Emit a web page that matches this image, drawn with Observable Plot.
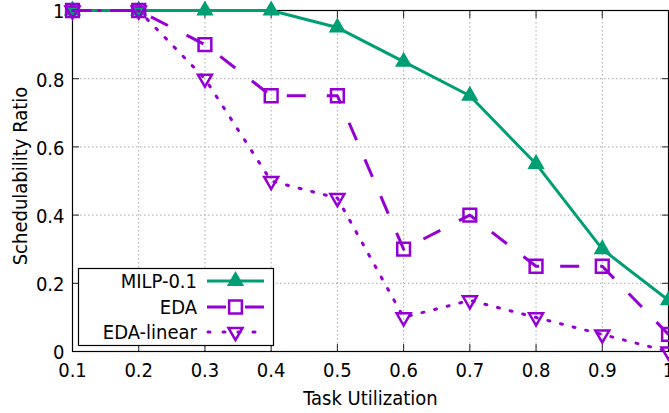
<!DOCTYPE html>
<html><head><meta charset="utf-8">
<script src="https://cdn.jsdelivr.net/npm/d3@7"></script>
<script src="https://cdn.jsdelivr.net/npm/@observablehq/plot@0.6"></script>
<style>
html,body{margin:0;padding:0;background:#fff;overflow:hidden;}
#chart svg{display:block;}
</style></head><body><div id="chart"></div>
<script>
const utilization = [0.1, 0.2, 0.3, 0.4, 0.5, 0.6, 0.7, 0.8, 0.9, 1.0];
const milp      = [1, 1, 1,   1,    0.95, 0.85, 0.75, 0.55, 0.30, 0.15];
const eda       = [1, 1, 0.9, 0.75, 0.75, 0.30, 0.40, 0.25, 0.25, 0.05];
const edaLinear = [1, 1, 0.8, 0.50, 0.45, 0.10, 0.15, 0.10, 0.05, 0.00];
const seriesNames = ["MILP-0.1", "EDA", "EDA-linear"];
const xTicks = [0.1, 0.2, 0.3, 0.4, 0.5, 0.6, 0.7, 0.8, 0.9, 1.0];
const xTickLabels = ["0.1", "0.2", "0.3", "0.4", "0.5", "0.6", "0.7", "0.8", "0.9", "1"];
const yTicks = [0, 0.2, 0.4, 0.6, 0.8, 1];
const yTickLabels = ["0", "0.2", "0.4", "0.6", "0.8", "1"];
const xLabel = "Task Utilization";
const yLabel = "Schedulability Ratio";

const GREEN = "#009e73", PURPLE = "#9400d3";
const FONT = "'DejaVu Sans Condensed', 'DejaVu Sans', sans-serif";
const FS = 20;

const rows = (vals, name) => utilization.map((u, i) => ({u, v: vals[i], s: name}));
const dMilp = rows(milp, seriesNames[0]);
const dEda = rows(eda, seriesNames[1]);
const dLin = rows(edaLinear, seriesNames[2]);

const fmtX = d => xTickLabels[xTicks.findIndex(t => Math.abs(t - d) < 1e-9)];
const fmtY = d => yTickLabels[yTicks.findIndex(t => Math.abs(t - d) < 1e-9)];

const styles = [
  {stroke: GREEN, dash: null, cap: "butt", symbol: "triangle", r: 6.4, fill: GREEN, sw: 0, rotate: 0},
  {stroke: PURPLE, dash: "19,21", cap: "butt", symbol: "square", r: 7.2, fill: "none", sw: 2.5, rotate: 0},
  {stroke: PURPLE, dash: "2,11", cap: "round", symbol: "triangle", r: 5.2, fill: "none", sw: 2.5, rotate: 180}
];
const datasets = [dMilp, dEda, dLin];

const seriesMarks = datasets.flatMap((d, i) => {
  const st = styles[i];
  return [
    Plot.line(d, {x: "u", y: "v", stroke: st.stroke, strokeWidth: 3, strokeDasharray: st.dash, strokeLinejoin: "round", strokeLinecap: st.cap}),
    Plot.dot(d, {x: "u", y: "v", symbol: st.symbol, r: st.r, fill: st.fill, stroke: st.sw ? st.stroke : "none", strokeWidth: st.sw, rotate: st.rotate})
  ];
});

const chart = Plot.plot({
  width: 669, height: 413,
  marginLeft: 72, marginRight: 1, marginTop: 10, marginBottom: 62,
  style: {fontFamily: FONT, fontSize: FS + "px", color: "black", background: "white", overflow: "visible"},
  x: {domain: [0.1, 1], label: null},
  y: {domain: [0, 1], label: null},
  marks: [
    Plot.ruleX(xTicks.slice(1, -1), {x: d => d, stroke: "#a8a8a8", strokeDasharray: "1.5,2.5", strokeWidth: 1}),
    Plot.ruleY(yTicks.slice(1, -1), {y: d => d, stroke: "#a8a8a8", strokeDasharray: "1.5,2.5", strokeWidth: 1}),
    Plot.axisX({ticks: xTicks, tickFormat: fmtX, tickSize: 0, tickPadding: 11, label: null}),
    Plot.axisY({ticks: yTicks, tickFormat: fmtY, tickSize: 0, tickPadding: 8, dy: 1.5, label: null}),
    Plot.axisX({anchor: "bottom", ticks: xTicks, tickFormat: () => "", tickSize: 7, dy: -7, label: null, stroke: "#222"}),
    Plot.axisX({anchor: "top", ticks: xTicks, tickFormat: () => "", tickSize: 7, dy: 7, label: null, stroke: "#222"}),
    Plot.axisY({anchor: "left", ticks: yTicks, tickFormat: () => "", tickSize: 7, dx: 7, label: null, stroke: "#222"}),
    Plot.axisY({anchor: "right", ticks: yTicks, tickFormat: () => "", tickSize: 7, dx: -7, label: null, stroke: "#222"}),
    Plot.frame({stroke: "black", strokeWidth: 1.2}),
    Plot.text([xLabel], {frameAnchor: "bottom", dy: 53, lineAnchor: "bottom", textAnchor: "middle", fontSize: FS}),
    Plot.text([yLabel], {frameAnchor: "left", dx: -52, dy: -5, rotate: -90, textAnchor: "middle", lineAnchor: "middle", fontSize: FS}),
    ...seriesMarks
  ]
});
document.getElementById("chart").appendChild(chart);

// Legend (gnuplot-style key box, bottom-left inside the plot)
const svg = d3.select(chart);
const lg = svg.append("g").attr("font-family", FONT).attr("font-size", FS);
lg.append("rect").attr("x", 78.5).attr("y", 268.5).attr("width", 195).attr("height", 77)
  .attr("fill", "white").attr("stroke", "black").attr("stroke-width", 1.2);
const rowY = [281, 307, 332];
seriesNames.forEach((name, i) => {
  const st = styles[i];
  const y = rowY[i];
  lg.append("text").attr("x", 197).attr("y", y).attr("dy", "0.35em").attr("text-anchor", "end").attr("fill", "black").text(name);
  const line = lg.append("line").attr("x1", 207).attr("x2", 264).attr("y1", y).attr("y2", y)
    .attr("stroke", st.stroke).attr("stroke-width", 3).attr("stroke-linecap", st.cap);
  if (i === 1) line.attr("stroke-dasharray", "19,19");
  if (i === 2) line.attr("stroke-dasharray", "2,13").attr("stroke-dashoffset", -1);
  const sym = d3.symbol(st.symbol === "square" ? d3.symbolSquare : d3.symbolTriangle, st.r * st.r * Math.PI);
  lg.append("path").attr("d", sym()).attr("transform", `translate(235.5,${y}) rotate(${st.rotate})`)
    .attr("fill", st.fill === "none" ? "white" : st.fill).attr("fill-opacity", st.fill === "none" ? 0 : 1)
    .attr("stroke", st.sw ? st.stroke : "none").attr("stroke-width", st.sw);
});
</script></body></html>
